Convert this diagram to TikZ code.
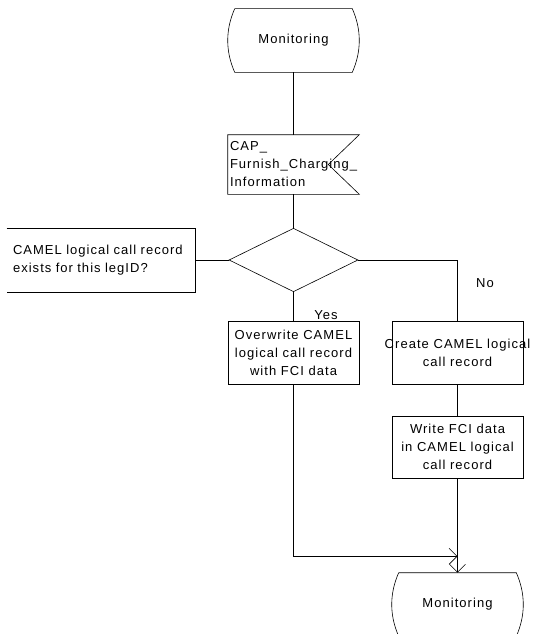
\documentclass[tikz,border=0pt]{standalone}
\usepackage{fontspec}
\setmainfont{Liberation Sans}[LetterSpace=8]
\usetikzlibrary{arrows.meta,shapes.geometric}
\newcommand\statesym[1]{\draw ([xshift=7pt]#1.north west) -- ([xshift=-7pt]#1.north east)
  .. controls +(9.3,21) and +(9.3,-21) .. ([xshift=-7pt]#1.south east)
  -- ([xshift=7pt]#1.south west)
  .. controls +(-9.3,-21) and +(-9.3,21) .. ([xshift=7pt]#1.north west);}
\begin{document}
\begin{tikzpicture}[x=1pt,y=-1pt, line width=0.6pt,
  every node/.style={font=\fontsize{13}{18}\selectfont},
  box/.style={draw, minimum width=131pt, minimum height=63pt, inner sep=0pt, align=center},
  plain/.style={minimum width=131pt, minimum height=63pt, inner sep=0pt, align=center},
  arr/.style={-{Straight Barb[length=8pt,width=16pt]}}]
\useasboundingbox (0,0) rectangle (535,634);
\clip (0,0) rectangle (535,634);
% nodes
\node[plain] (m1) at (293.5,40.5) {Monitoring};
\node[plain, minimum height=59pt, text width=127pt, align=left] (cap) at (293.5,164.5) {CAP\_\\Furnish\_Charging\_\\Information};
\node[diamond, draw, minimum width=129pt, minimum height=63.5pt, inner sep=0pt] (dec) at (293.5,260) {};
\node[minimum width=188pt, minimum height=63.5pt, inner xsep=6pt, inner ysep=0pt, text width=176pt, align=left] (cmt) at (101,260) {CAMEL logical call record\\exists for this legID?};
\node[box] (ow) at (293.5,353) {Overwrite CAMEL\\logical call record\\with FCI data};
\node[box] (cr) at (457.5,353) {\makebox[110pt]{Create CAMEL logical}\\call record};
\node[box, minimum height=62pt] (wr) at (457.5,447) {Write FCI data\\in CAMEL logical\\call record};
\node[plain] (m2) at (457.5,604.5) {Monitoring};
\node (yes) at (326,315) {Yes};
\node (no) at (485,283) {No};
% symbol outlines
\statesym{m1}
\statesym{m2}
\draw (cap.north west) -- (cap.north east) -- ([xshift=-31pt]cap.east) -- (cap.south east) -- (cap.south west) -- cycle;
\draw (cmt.north west) -- (cmt.north east) -- (cmt.south east) -- (cmt.south west);
% connectors
\draw (m1.south) -- (cap.north);
\draw (cap.south) -- (dec.north);
\draw (dec.west) -- (cmt.east);
\draw (dec.south) -- (ow.north);
\draw (dec.east) -| (cr.north);
\draw (cr.south) -- (wr.north);
\path (wr.south) ++(0,78) coordinate (join);
\draw[arr] (ow.south) |- (join);
\draw[arr] (wr.south) -- (m2.north);
\end{tikzpicture}
\end{document}
